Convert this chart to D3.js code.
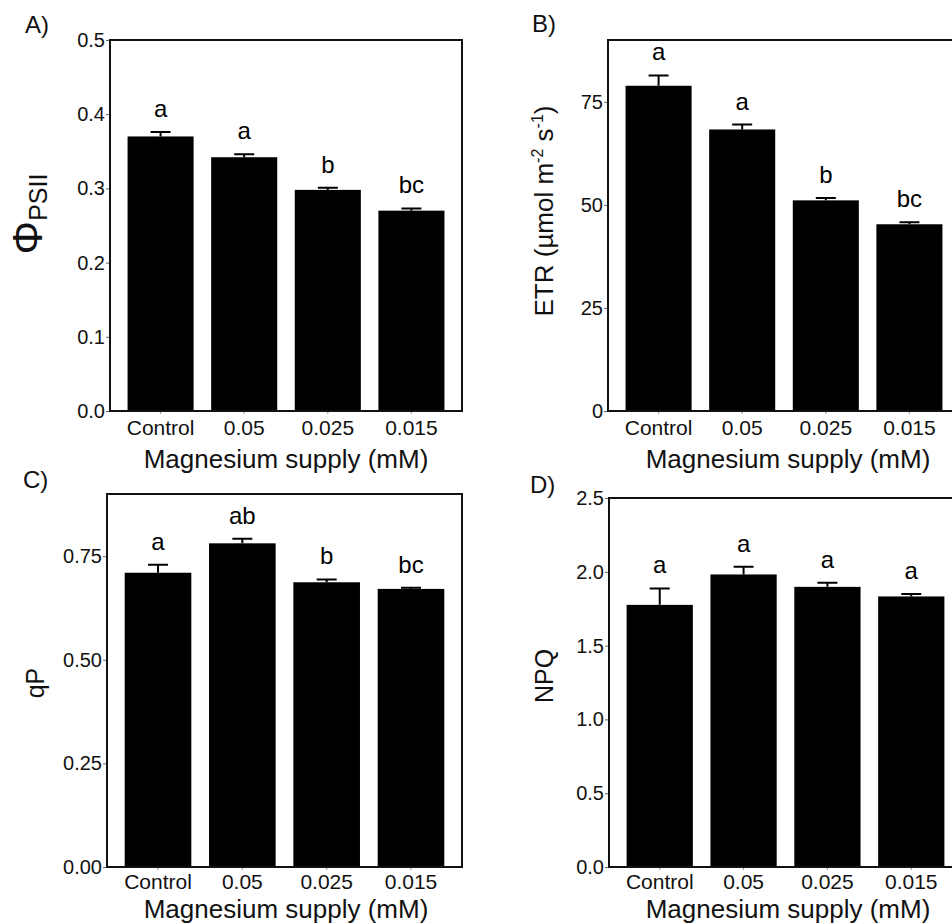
<!DOCTYPE html>
<html>
<head>
<meta charset="utf-8">
<script src="https://cdn.jsdelivr.net/npm/d3@7"></script>
<style>
  html, body { margin: 0; padding: 0; background: #fff; }
  svg { display: block; font-family: "Liberation Sans", Arial, sans-serif; }
</style>
</head>
<body>
<svg id="chart" width="952" height="923"></svg>
<script>
// Magnesium supply treatments
const categories = ["Control", "0.05", "0.025", "0.015"];

// A) effective quantum yield of PSII
const phiPSII   = [0.370, 0.342, 0.298, 0.270];
const phiSE     = [0.006, 0.004, 0.003, 0.003];
const phiLetters = ["a", "a", "b", "bc"];
const phiTicks  = [0, 0.1, 0.2, 0.3, 0.4, 0.5];

// B) electron transport rate
const etr       = [78.9, 68.3, 51.1, 45.3];
const etrSE     = [2.5, 1.2, 0.6, 0.5];
const etrLetters = ["a", "a", "b", "bc"];
const etrTicks  = [0, 25, 50, 75];

// C) photochemical quenching
const qP        = [0.710, 0.781, 0.687, 0.671];
const qPSE      = [0.019, 0.011, 0.007, 0.003];
const qPLetters = ["a", "ab", "b", "bc"];
const qPTicks   = [0, 0.25, 0.5, 0.75];

// D) non-photochemical quenching
const npq       = [1.776, 1.982, 1.898, 1.833];
const npqSE     = [0.111, 0.052, 0.027, 0.016];
const npqLetters = ["a", "a", "a", "a"];
const npqTicks  = [0, 0.5, 1.0, 1.5, 2.0, 2.5];

const xTitle = "Magnesium supply (mM)";

const svg = d3.select("#chart");

const panels = [
  { tag: "A)", values: phiPSII, se: phiSE, letters: phiLetters, ticks: phiTicks, max: 0.5, fmt: d3.format(".1f"),
    box: { l: 110, r: 462, t: 40, b: 411 }, tagPos: [25, 33], titleX: 286, titleY: 468, xPad: 6,
    ylab: { x: 42, y: 214, kind: "phi" } },
  { tag: "B)", values: etr, se: etrSE, letters: etrLetters, ticks: etrTicks, max: 90, fmt: d3.format("d"),
    box: { l: 608, r: 960, t: 40, b: 411 }, tagPos: [532, 32], titleX: 788, titleY: 468, xPad: 6,
    ylab: { x: 553, y: 211, kind: "etr" } },
  { tag: "C)", values: qP, se: qPSE, letters: qPLetters, ticks: qPTicks, max: 0.9, fmt: d3.format(".2f"),
    box: { l: 107, r: 462, t: 494, b: 867 }, tagPos: [23, 488], titleX: 286, titleY: 917.5, xPad: 4,
    ylab: { x: 44, y: 683, kind: "text", text: "qP" } },
  { tag: "D)", values: npq, se: npqSE, letters: npqLetters, ticks: npqTicks, max: 2.5, fmt: d3.format(".1f"),
    box: { l: 609, r: 962, t: 498, b: 867 }, tagPos: [530, 493], titleX: 788, titleY: 917.5, xPad: 4,
    ylab: { x: 553, y: 676, kind: "text", text: "NPQ" } }
];

panels.forEach(p => {
  const g = svg.append("g");
  const x = d3.scaleBand().domain(categories).range([p.box.l, p.box.r]).padding(0.21);
  const y = d3.scaleLinear().domain([0, p.max]).range([p.box.b, p.box.t]);
  const data = categories.map((c, i) => ({ c, v: p.values[i], se: p.se[i], lt: p.letters[i] }));

  // bars
  g.selectAll("rect.bar").data(data).join("rect")
    .attr("class", "bar")
    .attr("x", d => x(d.c))
    .attr("width", x.bandwidth())
    .attr("y", d => y(d.v))
    .attr("height", d => y(0) - y(d.v))
    .attr("fill", "#000");

  // upper error whiskers
  const cap = 10;
  g.selectAll("path.err").data(data).join("path")
    .attr("class", "err")
    .attr("d", d => {
      const cx = x(d.c) + x.bandwidth() / 2;
      return `M${cx},${y(d.v)}V${y(d.v + d.se)}M${cx - cap},${y(d.v + d.se)}H${cx + cap}`;
    })
    .attr("stroke", "#000").attr("stroke-width", 2).attr("fill", "none");

  // significance letters
  g.selectAll("text.sig").data(data).join("text")
    .attr("class", "sig")
    .attr("x", d => x(d.c) + x.bandwidth() / 2)
    .attr("y", d => y(d.v + d.se) - 15)
    .attr("text-anchor", "middle")
    .attr("font-size", 24)
    .text(d => d.lt);

  // y axis
  const yAxis = d3.axisLeft(y).tickValues(p.ticks).tickFormat(p.fmt).tickSize(4).tickPadding(1);
  const ya = g.append("g").attr("transform", `translate(${p.box.l},0)`).call(yAxis);
  ya.select(".domain").remove();
  ya.selectAll("line").attr("stroke", "#666");
  ya.selectAll("text").attr("font-size", 20).attr("fill", "#111")
    .attr("font-family", "Liberation Sans, Arial, sans-serif");

  // x axis
  const xAxis = d3.axisBottom(x).tickSize(3).tickPadding(p.xPad);
  const xa = g.append("g").attr("transform", `translate(0,${p.box.b})`).call(xAxis);
  xa.select(".domain").remove();
  xa.selectAll("line").attr("stroke", "#999");
  xa.selectAll("text").attr("font-size", 21).attr("fill", "#111")
    .attr("font-family", "Liberation Sans, Arial, sans-serif");

  // frame
  g.append("rect")
    .attr("x", p.box.l).attr("y", p.box.t)
    .attr("width", p.box.r - p.box.l).attr("height", p.box.b - p.box.t)
    .attr("fill", "none").attr("stroke", "#111").attr("stroke-width", 2);

  // x title
  g.append("text").attr("x", p.titleX).attr("y", p.titleY)
    .attr("text-anchor", "middle").attr("font-size", 26).attr("fill", "#111")
    .text(xTitle);

  // panel tag
  g.append("text").attr("x", p.tagPos[0]).attr("y", p.tagPos[1])
    .attr("font-size", 24).attr("fill", "#111").text(p.tag);

  // y title
  const yt = g.append("text")
    .attr("transform", `translate(${p.ylab.x},${p.ylab.y}) rotate(-90)`)
    .attr("text-anchor", "middle").attr("fill", "#111");
  if (p.ylab.kind === "phi") {
    yt.append("tspan").attr("font-size", 42).text("\u03A6");
    yt.append("tspan").attr("font-size", 25).attr("dy", 5).text("PSII");
  } else if (p.ylab.kind === "etr") {
    yt.attr("font-size", 26);
    yt.append("tspan").text("ETR (\u00B5mol m");
    yt.append("tspan").attr("font-size", 16).attr("dy", -10).text("-2");
    yt.append("tspan").attr("dy", 10).text(" s");
    yt.append("tspan").attr("font-size", 16).attr("dy", -10).text("-1");
    yt.append("tspan").attr("dy", 10).text(")");
  } else {
    yt.attr("font-size", 25).text(p.ylab.text);
  }
});
</script>
</body>
</html>
